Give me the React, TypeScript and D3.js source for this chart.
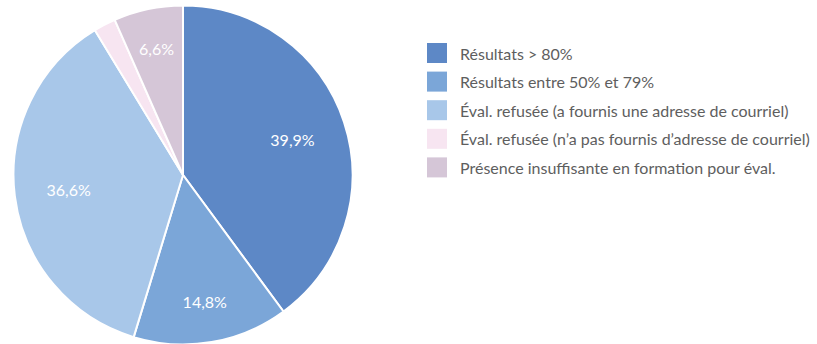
import React from "react";
import * as d3 from "d3";

const categories = [
  "Résultats > 80%",
  "Résultats entre 50% et 79%",
  "Éval. refusée (a fournis une adresse de courriel)",
  "Éval. refusée (n’a pas fournis d’adresse de courriel)",
  "Présence insuffisante en formation pour éval.",
];
const values = [39.9, 14.8, 36.6, 2.1, 6.6];
const labels = ["39,9%", "14,8%", "36,6%", "", "6,6%"];
const colors = ["#5d88c6", "#7ba6d8", "#a8c7e9", "#f7e5f1", "#d5c6d7"];

const W = 817;
const H = 344;
const cx = 183;
const cy = 175;
const R = 169.5;

export default function App() {
  const pie = d3.pie<number>().sort(null).value((d) => d);
  const arcs = pie(values);
  const arc = d3.arc<d3.PieArcDatum<number>>().innerRadius(0).outerRadius(R);
  const lr = (d: d3.PieArcDatum<number>) => (d.endAngle - d.startAngle > Math.PI * 0.6 ? R * 0.68 : R * 0.76);
  const labelArc = d3.arc<d3.PieArcDatum<number>>().innerRadius(lr).outerRadius(lr);

  const legendY = d3.scaleBand<number>().domain(d3.range(categories.length)).range([43, 186]);

  return (
    <svg
      width={W}
      height={H}
      style={{ position: "absolute", left: 0, top: 0, fontFamily: "Lato, 'Open Sans', sans-serif" }}
    >
      <g transform={`translate(${cx},${cy})`}>
        {arcs.map((a, i) => (
          <path key={i} d={arc(a) || ""} fill={colors[i]} stroke="#ffffff" strokeWidth={2} />
        ))}
        {arcs.map((a, i) => {
          const [x, y] = labelArc.centroid(a);
          return labels[i] ? (
            <text
              key={"l" + i}
              x={x}
              y={y}
              textAnchor="middle"
              dominantBaseline="central"
              fill="#ffffff"
              fontSize={16}
            >
              {labels[i]}
            </text>
          ) : null;
        })}
      </g>
      <g>
        {categories.map((c, i) => (
          <g key={c} transform={`translate(427,${legendY(i)})`}>
            <rect width={20} height={20} fill={colors[i]} />
            <text x={33} y={10} dominantBaseline="central" fill="#5e5e5e" fontSize={16}>
              {c}
            </text>
          </g>
        ))}
      </g>
    </svg>
  );
}
